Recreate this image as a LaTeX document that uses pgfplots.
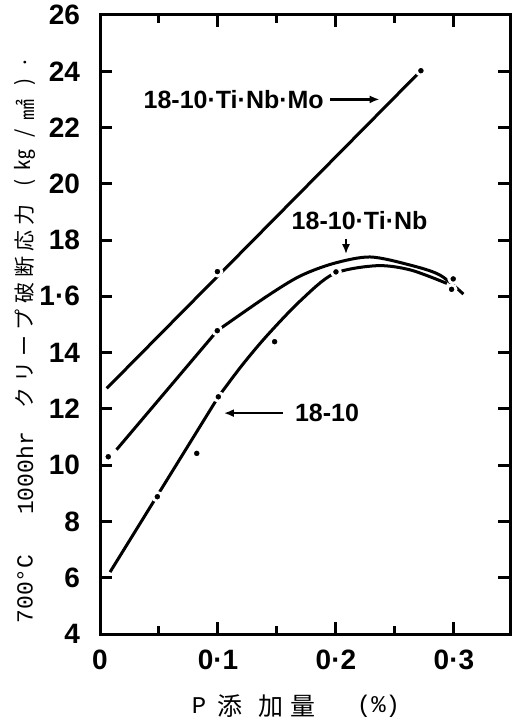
\documentclass[border=0pt]{standalone}
\usepackage{pgfplots}
\pgfplotsset{compat=1.18}
\usepackage{fontspec}
\setmainfont{Liberation Sans}
\newfontfamily\cjk{Noto Sans CJK JP}
\newfontfamily\mono{Liberation Mono}
\usetikzlibrary{arrows.meta}
\begin{document}
\begin{tikzpicture}
\path[use as bounding box] (-50pt,-46.5pt) rectangle (210.5pt,317pt);
\begin{axis}[
 scale only axis, width=205pt, height=309.5pt,
 xmin=0, xmax=0.3475, ymin=4, ymax=26,
 axis line style={line width=1.5pt},
 xtick={0,0.1,0.2,0.3}, xticklabels={0,0·1,0·2,0·3},
 minor xtick={0.05,0.15,0.25},
 ytick={4,6,...,26}, yticklabels={4,6,8,10,12,14,1·6,18,20,22,24,26},
 tick align=inside,
 major tick length=6pt, minor tick length=4pt,
 every tick/.style={line width=1.5pt, black},
 tick label style={font=\bfseries\fontsize{14}{14}\selectfont},
 xticklabel style={yshift=-4.5pt},
 yticklabel style={xshift=-6.5pt},
 clip=false,
]
% curves
\addplot[line width=1.5pt] coordinates {(0.0057,12.73) (0.272,24.02)};
\addplot[line width=1.5pt] coordinates {(0.014,10.55) (0.0994,14.78)};
\addplot[line width=1.5pt, smooth] coordinates {(0.0994,14.78) (0.141,15.99) (0.1695,16.72) (0.198,17.17) (0.229,17.4) (0.263,17.11) (0.288,16.76) (0.308,16.08)};
\addplot[line width=1.5pt] coordinates {(0.0085,6.2) (0.1003,12.43)};
\addplot[line width=1.5pt, smooth] coordinates {(0.1003,12.43) (0.12,13.53) (0.141,14.58) (0.1695,15.83) (0.198,16.8) (0.2345,17.09) (0.263,16.94) (0.294,16.46)};
% data points
\addplot[only marks, mark=*, mark size=2.2pt, mark options={fill=black, draw=white, line width=1.4pt}] coordinates {(0.0995,16.88) (0.272,24.02)};
\addplot[only marks, mark=*, mark size=2.2pt, mark options={fill=black, draw=white, line width=1.4pt}] coordinates {(0.007,10.3) (0.0994,14.78) (0.2994,16.62)};
\addplot[only marks, mark=*, mark size=2.2pt, mark options={fill=black, draw=white, line width=1.4pt}] coordinates {(0.0486,8.88) (0.082,10.42) (0.1003,12.43) (0.148,14.39) (0.2,16.87) (0.298,16.25)};
% annotations
\node[anchor=east, inner sep=0pt, font=\bfseries\fontsize{12.5}{12.5}\selectfont] at (axis cs:0.19,23.0) {18-10·Ti·Nb·Mo};
\draw[line width=1.2pt, -{Latex[length=5pt,width=4pt]}] (axis cs:0.195,23.0) -- (axis cs:0.237,23.0);
\node[inner sep=0pt, font=\bfseries\fontsize{12.5}{12.5}\selectfont] at (axis cs:0.220,18.7) {18-10·Ti·Nb};
\draw[line width=1.2pt, -{Latex[length=5pt,width=4pt]}] (axis cs:0.2085,18.05) -- (axis cs:0.2085,17.5);
\node[anchor=west, inner sep=0pt, font=\bfseries\fontsize{12.5}{12.5}\selectfont] at (axis cs:0.165,11.85) {18-10};
\draw[line width=1.2pt, -{Latex[length=5pt,width=4pt]}] (axis cs:0.155,11.85) -- (axis cs:0.105,11.85);
\end{axis}
% y label
\begin{scope}[every node/.style={rotate=90, inner sep=0pt}]
\node at (-37.5pt,22.5pt) {\mono\fontsize{11.5}{12}\selectfont 700°C};
\node at (-37.5pt,80.25pt) {\mono\fontsize{11.5}{12}\selectfont 1000hr};
\node at (-37.5pt,163.75pt) {\cjk\fontsize{10.5}{12}\selectfont ク\hspace{2.57pt}リ\hspace{2.57pt}ー\hspace{2.57pt}プ\hspace{2.57pt}破\hspace{2.57pt}断\hspace{2.57pt}応\hspace{2.57pt}力};
\node at (-37.5pt,225.5pt) {\cjk\fontsize{10.5}{12}\selectfont (};
\node at (-37.5pt,237pt) {\cjk\fontsize{10.5}{12}\selectfont ㎏};
\node at (-37.5pt,250.5pt) {\cjk\fontsize{10.5}{12}\selectfont /};
\node at (-37.5pt,262pt) {\cjk\fontsize{10.5}{12}\selectfont ㎟};
\node at (-37.5pt,276pt) {\cjk\fontsize{10.5}{12}\selectfont )};
\node at (-37.5pt,285.5pt) {\cjk\fontsize{10.5}{12}\selectfont .};
\end{scope}
% x label
\node[inner sep=0pt] at (49.5pt,-36pt) {\mono\fontsize{12}{12}\selectfont P};
\node[inner sep=0pt] at (65pt,-36pt) {\cjk\fontsize{12.5}{12}\selectfont 添};
\node[inner sep=0pt] at (85.5pt,-36pt) {\cjk\fontsize{12.5}{12}\selectfont 加};
\node[inner sep=0pt] at (101.5pt,-36pt) {\cjk\fontsize{12.5}{12}\selectfont 量};
\node[inner sep=0pt] at (139.25pt,-36pt) {\mono\fontsize{12}{12}\selectfont (\%)};
\end{tikzpicture}
\end{document}
